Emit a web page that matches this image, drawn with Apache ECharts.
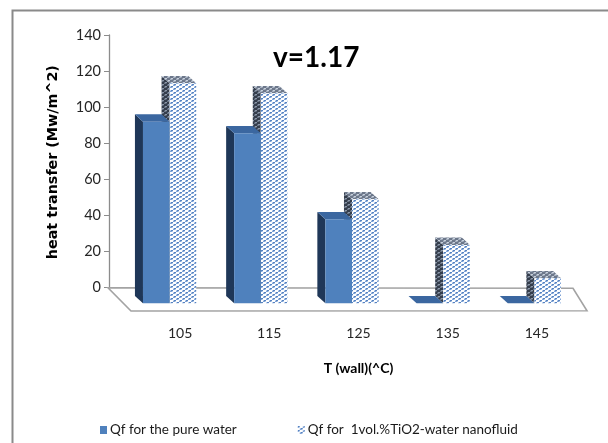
<!DOCTYPE html>
<html><head><meta charset="utf-8">
<script src="https://cdn.jsdelivr.net/npm/echarts@6/dist/echarts.min.js"></script>
<style>html,body{margin:0;padding:0;background:#fff}#c{width:608px;height:443px}</style>
</head><body><div id="c"></div>
<script>
const categories = ['105', '115', '125', '135', '145'];
const pureWater = [100.8, 94.3, 46.6, 0, 0];
const nanofluid = [122.1, 116.5, 57.7, 32.4, 13.9];
const yMin = 0, yMax = 140, yStep = 20;
const seriesNames = ['Qf for the pure water', 'Qf for  1vol.%TiO2-water nanofluid'];
const titleText = 'v=1.17';
const yName = 'heat transfer (Mw/m^2)';
const xName = 'T (wall)(^C)';

const NARROW = 'Lato, "Liberation Sans", sans-serif';

function makeTile(bg, c1, c2, c3) {
  const cv = document.createElement('canvas');
  cv.width = 6; cv.height = 4;
  const g = cv.getContext('2d');
  g.fillStyle = bg; g.fillRect(0, 0, 6, 4);
  const put = (c, pts) => { g.fillStyle = c; pts.forEach(p => g.fillRect(p[0], p[1], 1, 1)); };
  put(c1, [[0,0],[3,2],[1,0],[4,2]]);
  put(c2, [[0,1],[3,3],[5,1],[2,3]]);
  put(c3, [[1,1],[4,3],[5,0],[2,2]]);
  return cv;
}
const frontPat = { image: makeTile('#ffffff', '#5582c1', '#7fa3d6', '#bdd0eb'), repeat: 'repeat' };
const sidePat = { image: makeTile('#343d4b', '#8b97a8', '#6a7586', '#4b5566'), repeat: 'repeat' };
const topPat = { image: makeTile('#6c778a', '#c7d0dc', '#a7b1c0', '#8a95a6'), repeat: 'repeat' };

const styles = [
  { front: '#4f81bd', side: '#1f3758', top: '#3b67a0' },
  { front: frontPat, side: sidePat, top: topPat }
];

function barRenderer(k) {
  return function (params, api) {
    const idx = api.value(0);
    const v = api.value(1);
    const top = api.coord([idx, v]);
    const base = api.coord([idx, 0]);
    const band = api.size([1, 0])[0];
    const w = band * 0.292;
    const dx = -band * 0.088, dy = -band * 0.08;
    const x0 = k === 0 ? top[0] - w : top[0];
    const x1 = x0 + w;
    const yt = top[1], yb = base[1];
    const s = styles[k];
    const children = [
      { type: 'polygon', shape: { points: [[x0, yt], [x0 + dx, yt + dy], [x0 + dx, yb + dy], [x0, yb]] }, style: { fill: s.side } },
      { type: 'polygon', shape: { points: [[x0, yt], [x1, yt], [x1 + dx, yt + dy], [x0 + dx, yt + dy]] }, style: { fill: s.top } }
    ];
    if (yb - yt > 0.5) children.push({ type: 'rect', shape: { x: x0, y: yt, width: w, height: yb - yt }, style: { fill: s.front } });
    return { type: 'group', children };
  };
}

function floorRenderer(params, api) {
  const cs = params.coordSys;
  const y0 = api.coord([0, 0])[1];
  const xa = cs.x, xb = cs.x + cs.width;
  return {
    type: 'polygon',
    shape: { points: [[xa - 16, y0 - 15.5], [xb - 7, y0 - 15], [xb + 7, y0 + 7.5], [xa + 7, y0 + 7.7]] },
    style: { fill: '#ffffff', stroke: '#a3a3a3', lineWidth: 1.6 }
  };
}

const chart = echarts.init(document.getElementById('c'), null, { renderer: 'canvas' });
chart.setOption({
  animation: false,
  backgroundColor: '#ffffff',
  title: {
    text: titleText, left: 268, top: 39,
    textStyle: { fontFamily: NARROW, fontWeight: 'bold', fontSize: 28, color: '#000' }
  },
  graphic: [{
    type: 'rect', left: 10, top: 8, z: -10, silent: true,
    shape: { width: 640, height: 480 },
    style: { fill: 'none', stroke: '#8a8a8a', lineWidth: 2 }
  }],
  legend: {
    data: [
      { name: seriesNames[0], itemStyle: { color: '#4f81bd' } },
      { name: seriesNames[1], itemStyle: { color: frontPat } }
    ],
    left: 95, top: 418, icon: 'rect', itemWidth: 7, itemHeight: 8, itemGap: 61,
    textStyle: { fontFamily: NARROW, fontSize: 13.5, color: '#1a1a1a', padding: [0, 0, 0, -2] }
  },
  grid: [
    { left: 109, top: 35, width: 463, height: 252.3 },
    { left: 124, top: 51, width: 456, height: 252.3 },
    { left: 135.5, top: 51, width: 446, height: 252.3 }
  ],
  xAxis: [
    { gridIndex: 0, type: 'category', data: categories, show: false },
    { gridIndex: 1, type: 'category', data: categories, axisLine: { show: false }, axisTick: { show: false }, axisLabel: { show: false } },
    {
      gridIndex: 2, type: 'category', data: categories,
      axisLine: { show: false }, axisTick: { show: false },
      axisLabel: { margin: 23, fontFamily: NARROW, fontSize: 14, color: '#262626' },
      name: xName, nameLocation: 'middle', nameGap: 58,
      nameTextStyle: { fontFamily: NARROW, fontWeight: 'bold', fontSize: 14, color: '#000' }
    }
  ],
  yAxis: [
    {
      gridIndex: 0, type: 'value', min: yMin, max: yMax, interval: yStep,
      splitLine: { show: false },
      axisLine: { show: true, lineStyle: { color: '#8c8c8c', width: 1.3 } },
      axisTick: { show: true, length: 5, lineStyle: { color: '#8c8c8c' } },
      axisLabel: { margin: 8, fontFamily: NARROW, fontSize: 14.5, color: '#262626' },
      name: yName, nameLocation: 'middle', nameRotate: 90, nameGap: 49,
      nameTextStyle: { fontFamily: '"DejaVu Sans", sans-serif', fontWeight: 'bold', fontSize: 14.3, color: '#000', padding: [0, 2, 0, 0] }
    },
    { gridIndex: 1, type: 'value', min: yMin, max: yMax, interval: yStep, show: false, splitLine: { show: false } },
    { gridIndex: 2, type: 'value', min: yMin, max: yMax, interval: yStep, show: false, splitLine: { show: false } }
  ],
  series: [
    {
      name: seriesNames[0], type: 'custom', xAxisIndex: 1, yAxisIndex: 1, z: 4,
      itemStyle: { color: '#4f81bd' },
      renderItem: barRenderer(0),
      data: pureWater.map((v, i) => [i, v])
    },
    {
      name: seriesNames[1], type: 'custom', xAxisIndex: 1, yAxisIndex: 1, z: 3,
      itemStyle: { color: frontPat },
      renderItem: barRenderer(1),
      data: nanofluid.map((v, i) => [i, v])
    },
    {
      name: 'floor', type: 'custom', xAxisIndex: 1, yAxisIndex: 1, z: 1, silent: true,
      renderItem: floorRenderer, data: [[0, 0]]
    }
  ]
});
</script></body></html>
